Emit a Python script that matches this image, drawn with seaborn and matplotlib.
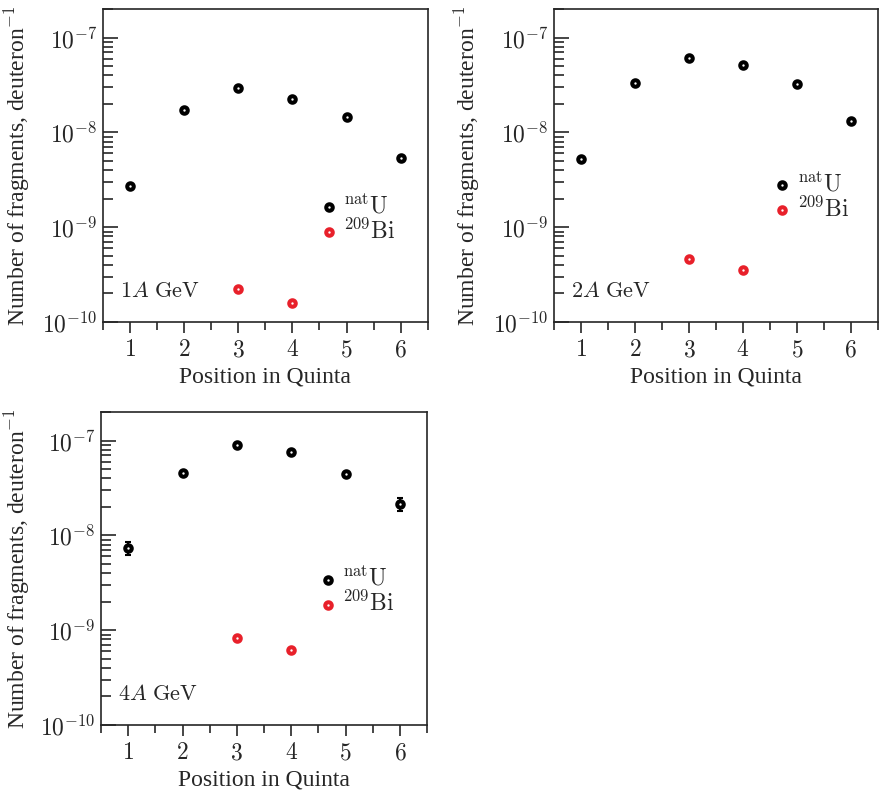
import numpy as np
import pandas as pd
import seaborn as sns
import matplotlib
matplotlib.use("Agg")
import matplotlib.pyplot as plt
from matplotlib.ticker import (LogLocator, NullFormatter, FuncFormatter,
                               MultipleLocator, FixedLocator)

# data
positions = [1, 2, 3, 4, 5, 6]
bi_positions = [3, 4]

u_1gev = [2.7e-9, 1.73e-8, 2.95e-8, 2.26e-8, 1.46e-8, 5.4e-9]
u_1gev_err = [1.0e-10, 6e-10, 1.0e-9, 8e-10, 5e-10, 2e-10]
bi_1gev = [2.22e-10, 1.58e-10]
bi_1gev_err = [8e-12, 6e-12]

u_2gev = [5.2e-9, 3.33e-8, 6.1e-8, 5.15e-8, 3.25e-8, 1.33e-8]
u_2gev_err = [2e-10, 1.2e-9, 2.0e-9, 1.8e-9, 1.1e-9, 5e-10]
bi_2gev = [4.64e-10, 3.56e-10]
bi_2gev_err = [1.5e-11, 1.2e-11]

u_4gev = [7.35e-9, 4.53e-8, 9.1e-8, 7.66e-8, 4.46e-8, 2.14e-8]
u_4gev_err = [1.2e-9, 1.5e-9, 3.0e-9, 2.5e-9, 1.5e-9, 3.5e-9]
bi_4gev = [8.3e-10, 6.15e-10]
bi_4gev_err = [3e-11, 2e-11]

energies = ["1", "2", "4"]
decades = [1e-10, 1e-9, 1e-8, 1e-7]

sns.set_theme(style="ticks")
plt.rcParams["font.family"] = ["Liberation Serif", "DejaVu Serif"]
plt.rcParams["mathtext.fontset"] = "cm"

fig = plt.figure(figsize=(8.8, 7.98), dpi=100)
rects = [
    [0.117, 0.5965, 0.369, 0.392],
    [0.6295, 0.5965, 0.368, 0.392],
    [0.1148, 0.0915, 0.3705, 0.392],
]
legend_pos = [(0.63, 0.33), (0.64, 0.40), (0.63, 0.427)]
ylabel_x = [-0.218, -0.222, -0.212]

panels = [
    (u_1gev, u_1gev_err, bi_1gev, bi_1gev_err),
    (u_2gev, u_2gev_err, bi_2gev, bi_2gev_err),
    (u_4gev, u_4gev_err, bi_4gev, bi_4gev_err),
]

red = "#e8202a"

for i, (u, ue, bi, bie) in enumerate(panels):
    ax = fig.add_axes(rects[i])
    df_u = pd.DataFrame({"pos": positions, "val": u, "err": ue})
    df_bi = pd.DataFrame({"pos": bi_positions, "val": bi, "err": bie})

    ax.errorbar(df_u["pos"], df_u["val"], yerr=df_u["err"], fmt="none",
                ecolor="black", elinewidth=1.5, capsize=2, capthick=1.5, zorder=2)
    ax.errorbar(df_bi["pos"], df_bi["val"], yerr=df_bi["err"], fmt="none",
                ecolor=red, elinewidth=1.5, capsize=2, capthick=1.5, zorder=2)

    for df, col, lab in [(df_u, "black", r"$^{\mathrm{nat}}\mathrm{U}$"),
                         (df_bi, red, r"$^{209}\mathrm{Bi}$")]:
        sns.scatterplot(data=df, x="pos", y="val", ax=ax, marker="o", s=22,
                        color=col, label=lab, zorder=3, legend=False)
        pts = ax.collections[-1]
        pts.set_facecolor("white")
        pts.set_edgecolor(col)
        pts.set_linewidth(2.9)

    ax.set_yscale("log")
    ax.set_ylim(1e-10, 2e-7)
    ax.set_xlim(0.5, 6.5)

    ax.xaxis.set_major_locator(MultipleLocator(1))
    ax.xaxis.set_minor_locator(MultipleLocator(0.5))
    ax.xaxis.set_major_formatter(FuncFormatter(lambda v, p: r"$%d$" % round(v)))
    ax.yaxis.set_major_locator(FixedLocator(decades))
    ax.yaxis.set_minor_locator(LogLocator(base=10, subs=np.arange(2, 10), numticks=20))
    ax.yaxis.set_minor_formatter(NullFormatter())
    ax.yaxis.set_major_formatter(FuncFormatter(
        lambda v, p: r"$10^{%d}$" % round(np.log10(v))))

    ax.tick_params(axis="x", which="major", direction="out", length=8, width=1.2,
                   labelsize=17, pad=5)
    ax.tick_params(axis="x", which="minor", direction="out", length=6, width=1.2)
    ax.tick_params(axis="y", which="major", direction="in", length=11, width=1.2,
                   labelsize=17, pad=4)
    ax.tick_params(axis="y", which="minor", direction="in", length=7, width=1.2)
    for sp in ax.spines.values():
        sp.set_visible(True)
        sp.set_linewidth(1.2)

    ax.set_xlabel("Position in Quinta", fontsize=17, labelpad=4)
    ax.set_ylabel(r"Number of fragments, deuteron$^{-1}$", fontsize=17)
    ax.yaxis.set_label_coords(ylabel_x[i], 0.5)

    ax.text(0.052, 0.08, r"$%s A\ \mathrm{GeV}$" % energies[i],
            transform=ax.transAxes, fontsize=16)

    ax.legend(loc="center left", bbox_to_anchor=legend_pos[i], frameon=False,
              fontsize=17, handletextpad=0.1, labelspacing=0.0,
              borderaxespad=0, handlelength=1.0)

fig.savefig("out.png", dpi=100)
